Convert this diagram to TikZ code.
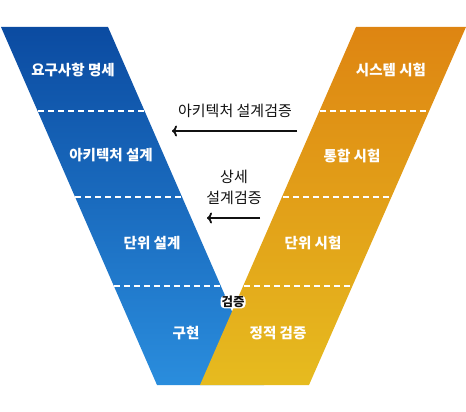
\documentclass[tikz,border=0pt]{standalone}
\usepackage{fontspec}
\setmainfont{Noto Sans CJK KR}
\usetikzlibrary{arrows.meta}
\definecolor{bluetop}{HTML}{0B4BA1}
\definecolor{bluebot}{HTML}{2A8DDD}
\definecolor{orgtop}{HTML}{DE8512}
\definecolor{orgbot}{HTML}{E6BB1F}
\definecolor{ink}{HTML}{111111}
\tikzset{
  bandlabel/.style={text=white,font=\fontsize{14.5}{16}\selectfont\bfseries,inner sep=0pt},
  sidelabel/.style={text=ink,font=\fontsize{15}{21}\selectfont,inner sep=0pt,align=center},
  halo/.style={text=ink,fill=white,rounded corners=4pt,inner xsep=1pt,inner ysep=0.5pt,font=\fontsize{12.5}{13}\selectfont\bfseries},
  sep/.style={white,line width=1.3pt,dash pattern=on 6pt off 4pt},
  arr/.style={ink,line width=1.8pt,-{To[length=5pt,width=11pt]}},
}
\begin{document}
\begin{tikzpicture}[x=1pt,y=-1pt]
\useasboundingbox (0,0) rectangle (466,412);
% bands
\shade[top color=bluetop,bottom color=bluebot] (1,27) -- (108,27) -- (264,385) -- (157,385) -- cycle;
\shade[top color=orgtop,bottom color=orgbot] (356,27) -- (466,27) -- (309,385) -- (200,385) -- cycle;
% separators
\draw[sep] (38,111) -- (145,111);
\draw[sep] (320,111) -- (429,111);
\draw[sep] (75,197) -- (182,197);
\draw[sep] (283,197) -- (392,197);
\draw[sep] (114,286) -- (221,286);
\draw[sep] (244,286) -- (353,286);
% band labels
\node[bandlabel] (req) at (73,70) {요구사항 명세};
\node[bandlabel] (arch) at (111,155) {아키텍처 설계};
\node[bandlabel] (unitd) at (152,243) {단위 설계};
\node[bandlabel] (impl) at (186,333) {구현};
\node[bandlabel] (syst) at (391,70) {시스템 시험};
\node[bandlabel] (intt) at (352,156) {통합 시험};
\node[bandlabel] (unitt) at (313,243) {단위 시험};
\node[bandlabel] (stat) at (278,333) {정적 검증};
\node[halo] (verif) at (233,302) {검증};
% side labels and arrows
\node[sidelabel] (archv) at (235,111) {아키텍처 설계검증};
\node[sidelabel] (detv) at (234,187) {상세\\설계검증};
\coordinate (a1s) at (297,131);
\coordinate (a1e) at (172,131);
\coordinate (a2s) at (260,218);
\coordinate (a2e) at (207,218);
\draw[arr] (a1s) -- (a1e);
\draw[arr] (a2s) -- (a2e);
\end{tikzpicture}
\end{document}
